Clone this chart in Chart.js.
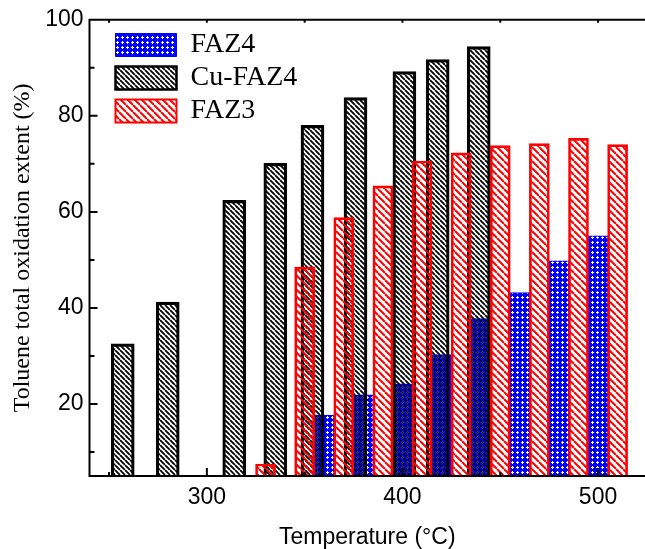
<!DOCTYPE html>
<html>
<head>
<meta charset="utf-8">
<script src="https://cdn.jsdelivr.net/npm/chart.js@4.4.1/dist/chart.umd.min.js"></script>
<style>
html, body { margin: 0; padding: 0; background: #fff; }
</style>
</head>
<body>
<canvas id="chart" width="645" height="549"></canvas>
<script>
// temperature (°C) and toluene total oxidation extent (%)
var faz4Temps = [360, 380, 400, 420, 440, 460, 480, 500];
var faz4Values = [17.7, 21.9, 24.2, 30.3, 37.8, 43.2, 49.8, 55.0];
var cuTemps = [257, 280, 314, 335, 354, 376, 401, 418, 439];
var cuValues = [32.5, 41.2, 62.4, 70.1, 78.0, 83.8, 89.2, 91.7, 94.4];
var faz3Temps = [330, 350, 370, 390, 410, 430, 450, 470, 490, 510];
var faz3Values = [7.5, 48.5, 58.8, 65.4, 70.6, 72.3, 73.8, 74.2, 75.3, 74.0];

var xLabels = [300, 400, 500];
var xMinor = [250, 350, 450];
var yLabels = [20, 40, 60, 80, 100];
var yMinor = [10, 30, 50, 70, 90];

function points(xs, ys) {
    return xs.map(function (x, i) { return { x: x, y: ys[i] }; });
}

function stripes(color, size, width) {
    var c = document.createElement('canvas');
    c.width = size;
    c.height = size;
    var g = c.getContext('2d');
    g.strokeStyle = color;
    g.lineWidth = width;
    g.beginPath();
    for (var k = -1; k <= 1; k++) {
        g.moveTo(k * size, 0);
        g.lineTo(k * size + size, size);
    }
    g.stroke();
    return g.createPattern(c, 'repeat');
}

function dots(bg, fg) {
    var c = document.createElement('canvas');
    c.width = 5;
    c.height = 5;
    var g = c.getContext('2d');
    g.fillStyle = bg;
    g.fillRect(0, 0, 5, 5);
    g.fillStyle = fg;
    g.fillRect(2, 1, 1, 3);
    g.fillRect(1, 2, 3, 1);
    return g.createPattern(c, 'repeat');
}

// inward tick marks and the frame, drawn over the bars
var frame = {
    id: 'frame',
    afterDatasetsDraw: function (chart) {
        var ctx = chart.ctx, a = chart.chartArea;
        var xs = chart.scales.x, ys = chart.scales.y;
        ctx.save();
        ctx.strokeStyle = '#000';
        ctx.lineWidth = 2;
        ctx.beginPath();
        ctx.moveTo(a.left, a.top);
        ctx.lineTo(a.right, a.top);
        ctx.moveTo(a.left, a.top - 1);
        ctx.lineTo(a.left, a.bottom + 1);
        ctx.moveTo(a.left, a.bottom);
        ctx.lineTo(a.right, a.bottom);
        function xTick(v, len) {
            var p = xs.getPixelForValue(v);
            ctx.moveTo(p, a.bottom);
            ctx.lineTo(p, a.bottom - len);
            ctx.moveTo(p, a.top);
            ctx.lineTo(p, a.top + 3);
        }
        function yTick(v, len) {
            var p = ys.getPixelForValue(v);
            ctx.moveTo(a.left, p);
            ctx.lineTo(a.left + len, p);
        }
        xLabels.forEach(function (v) { xTick(v, 8); });
        xMinor.forEach(function (v) { xTick(v, 4); });
        yLabels.forEach(function (v) { yTick(v, 8); });
        yMinor.forEach(function (v) { yTick(v, 5); });
        ctx.stroke();
        ctx.restore();
    }
};

// move the legend inside the plot to where the reference has it
var legendShift = {
    id: 'legendShift',
    afterLayout: function (chart) {
        chart.legend.left += 21;
        chart.legend.top += 26;
    }
};

var ctx = document.getElementById('chart');
var myChart = new Chart(ctx, {
    type: 'bar',
    data: {
        datasets: [
            {
                label: 'FAZ4',
                data: points(faz4Temps, faz4Values),
                backgroundColor: dots('#0000ff', '#ffffff'),
                borderColor: '#0000ff',
                borderWidth: 1,
                barThickness: 20,
                grouped: false,
                clip: 0,
                order: 3,
            },
            {
                label: 'Cu-FAZ4',
                data: points(cuTemps, cuValues),
                backgroundColor: stripes('#000000', 5, 1.8),
                borderColor: '#000000',
                borderWidth: 2.5,
                barThickness: 23,
                grouped: false,
                clip: 0,
                order: 2,
            },
            {
                label: 'FAZ3',
                data: points(faz3Temps, faz3Values),
                backgroundColor: stripes('#ff0000', 7, 2),
                borderColor: '#ff0000',
                borderWidth: 2,
                barThickness: 20,
                grouped: false,
                clip: 0,
                order: 1,
            },
        ],
    },
    options: {
        responsive: false,
        animation: false,
        devicePixelRatio: 1,
        layout: { padding: { top: 19, left: 0, right: 0, bottom: 0 } },
        plugins: {
            tooltip: { enabled: false },
            legend: {
                position: 'chartArea',
                align: 'start',
                labels: {
                    boxWidth: 61,
                    boxHeight: 23,
                    padding: 5,
                    color: '#000',
                    font: { family: 'Liberation Serif', size: 28, lineHeight: 1 },
                    sort: function (a, b) { return a.datasetIndex - b.datasetIndex; },
                },
            },
        },
        scales: {
            x: {
                type: 'linear',
                offset: false,
                min: 240,
                max: 524,
                afterFit: function (scale) { scale.height = 73; },
                afterBuildTicks: function (axis) {
                    axis.ticks = xLabels.map(function (v) { return { value: v }; });
                },
                grid: { display: true, drawOnChartArea: false, drawTicks: false, offset: false },
                border: { display: false },
                ticks: {
                    padding: 8,
                    maxRotation: 0,
                    autoSkip: false,
                    color: '#000',
                    font: { family: 'Liberation Sans', size: 23 },
                },
                title: {
                    display: true,
                    text: 'Temperature (°C)',
                    color: '#000',
                    font: { family: 'Liberation Sans', size: 23, lineHeight: 1 },
                    padding: { top: 0, bottom: 0 },
                },
            },
            y: {
                type: 'linear',
                min: 5,
                max: 100,
                afterFit: function (scale) { scale.width = 89.5; },
                afterBuildTicks: function (axis) {
                    axis.ticks = yLabels.map(function (v) { return { value: v }; });
                },
                grid: { display: true, drawOnChartArea: false, drawTicks: false },
                border: { display: false },
                ticks: {
                    padding: 6,
                    color: '#000',
                    font: { family: 'Liberation Sans', size: 23 },
                },
                title: {
                    display: true,
                    text: 'Toluene total oxidation extent (%)',
                    color: '#000',
                    font: { family: 'Liberation Serif', size: 24 },
                    padding: { top: 8, bottom: 0 },
                },
            },
        },
    },
    plugins: [frame, legendShift],
});
</script>
</body>
</html>
